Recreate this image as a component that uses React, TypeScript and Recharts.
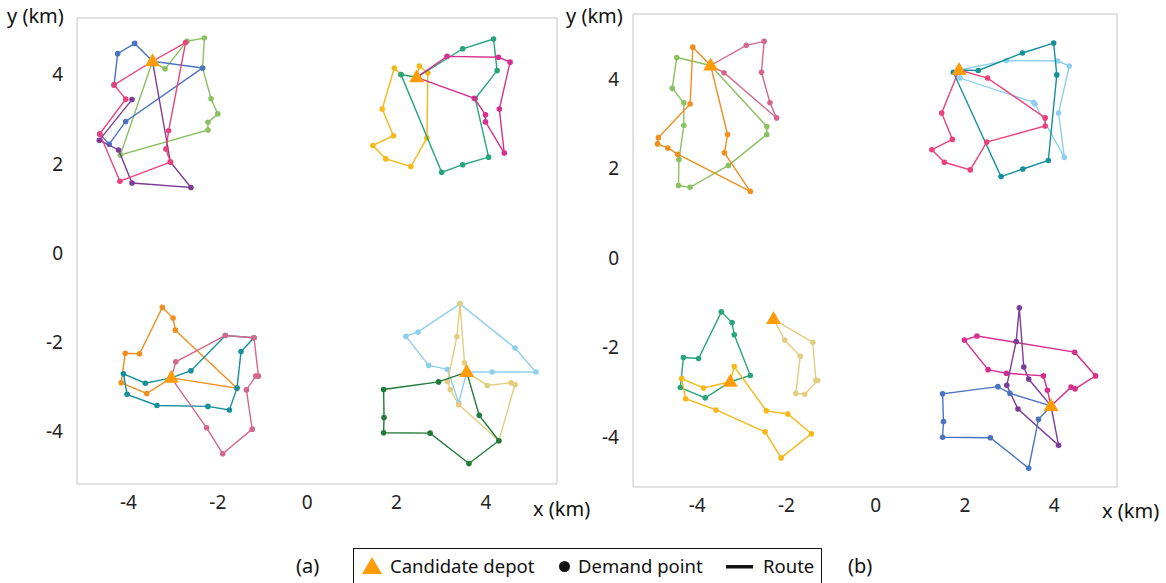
import { ReferenceArea, Scatter, ScatterChart, XAxis, YAxis } from "recharts";

type Pt = [number, number];

const FONT = '"Noto Sans", "DejaVu Sans", sans-serif';
const X_TICKS = [-4, -2, 0, 2, 4];
const Y_TICKS = [-4, -2, 0, 2, 4];

const C = {
  blue: "#4a74c0",
  lightGreen: "#8cc063",
  pink: "#e8437b",
  purple: "#7d3c98",
  yellow: "#f4b818",
  seaGreen: "#27a57c",
  magenta: "#d62f8f",
  orange: "#ef8f1f",
  teal: "#16909b",
  rose: "#d3698a",
  skyBlue: "#8ecfee",
  khaki: "#e3cd7e",
  darkGreen: "#217a3a",
  depot: "#ff9c0a",
};

// ---- panel (a) ----
const A_DEPOTS: Pt[] = [[-3.46, 4.3], [2.45, 3.94], [-3.04, -2.8], [3.57, -2.67]];

const A_NW_GREEN: Pt[] = [[-3.18, 4.13], [-2.69, 4.75], [-2.3, 4.82], [-2.34, 4.15], [-2.15, 3.46], [-2.0, 3.12], [-2.22, 2.93], [-2.22, 2.76], [-4.18, 2.2]];
const A_NW_PINK: Pt[] = [[-2.72, 4.72], [-3.1, 2.74], [-3.16, 2.33], [-3.06, 2.04], [-4.19, 1.61], [-4.64, 2.67], [-4.06, 3.45], [-4.32, 3.77]];
const A_NW_BLUE1: Pt[] = [[-3.86, 4.7], [-4.24, 4.47], [-4.32, 3.77]];
const A_NW_BLUE2: Pt[] = [[-2.34, 4.15], [-4.06, 2.95], [-4.43, 2.44], [-4.64, 2.67]];
const A_NW_PURPLE: Pt[] = [[-3.06, 2.04], [-2.6, 1.47], [-3.92, 1.57], [-4.22, 2.31], [-4.65, 2.53], [-3.92, 3.44]];

const A_NE_YELLOW: Pt[] = [[2.51, 4.19], [2.7, 4.04], [2.68, 2.58], [2.32, 1.94], [1.76, 2.11], [1.47, 2.41], [1.93, 2.63], [1.68, 3.23], [1.95, 4.15], [2.1, 4.0]];
const A_NE_GREEN: Pt[] = [[3.48, 4.58], [4.17, 4.8], [4.25, 4.09], [3.76, 3.46], [4.06, 2.15], [3.48, 1.98], [3.01, 1.81], [2.1, 4.0]];
const A_NE_MAGENTA: Pt[] = [[3.13, 4.41], [4.28, 4.39], [4.54, 4.28], [4.3, 3.23], [4.41, 2.24], [3.99, 2.94], [3.99, 3.1], [3.74, 3.47]];

const A_SW_ORANGE: Pt[] = [[-1.57, -3.03], [-2.95, -1.73], [-3.0, -1.46], [-3.24, -1.22], [-3.75, -2.26], [-4.07, -2.25], [-4.16, -2.91], [-3.59, -3.15]];
const A_SW_TEAL: Pt[] = [[-2.6, -2.64], [-1.83, -1.85], [-1.19, -1.9], [-1.48, -2.21], [-1.57, -3.03], [-1.74, -3.52], [-2.22, -3.44], [-3.36, -3.42], [-4.03, -3.17], [-4.11, -2.71], [-3.62, -2.92]];
const A_SW_ROSE: Pt[] = [[-2.94, -2.44], [-1.83, -1.85], [-1.19, -1.9], [-1.09, -2.76], [-1.15, -2.76], [-1.36, -3.07], [-1.23, -3.95], [-1.89, -4.5], [-2.25, -3.92]];

const A_SE_SKY: Pt[] = [[4.14, -2.67], [5.12, -2.67], [4.65, -2.13], [3.42, -1.14], [2.48, -1.77], [2.21, -1.87], [2.72, -2.52], [3.14, -2.61], [3.39, -3.36]];
const A_SE_KHAKI: Pt[] = [[3.52, -2.46], [3.42, -1.14], [3.35, -1.88], [3.14, -2.88], [3.2, -3.06], [3.39, -3.4], [4.29, -4.21], [4.65, -2.95], [4.56, -2.91], [4.03, -2.97]];
const A_SE_DARKGREEN: Pt[] = [[2.94, -2.89], [1.71, -3.06], [1.72, -3.69], [1.71, -4.03], [2.75, -4.04], [3.62, -4.72], [4.29, -4.21], [3.85, -3.64]];

// ---- panel (b) ----
const B_DEPOTS: Pt[] = [[-3.7, 4.3], [1.87, 4.2], [-3.26, -2.76], [-2.29, -1.36], [3.93, -3.3]];

const B_NW_ORANGE: Pt[] = [[-4.1, 4.71], [-4.16, 3.44], [-4.87, 2.69], [-4.89, 2.55], [-4.66, 2.46], [-4.44, 2.32], [-2.81, 1.49], [-3.39, 2.35], [-3.32, 2.76]];
const B_NW_GREEN: Pt[] = [[-4.46, 4.48], [-4.56, 3.79], [-4.3, 3.47], [-4.3, 2.96], [-4.41, 2.2], [-4.42, 1.62], [-4.16, 1.58], [-3.3, 2.07], [-2.44, 2.76], [-2.44, 2.94]];
const B_NW_ROSE: Pt[] = [[-2.9, 4.75], [-2.5, 4.84], [-2.56, 4.15], [-2.37, 3.47], [-2.22, 3.13], [-3.4, 4.14]];

const B_NE_TEAL: Pt[] = [[2.3, 4.19], [3.29, 4.58], [3.99, 4.8], [4.06, 4.09], [3.87, 2.18], [3.3, 1.99], [2.81, 1.82], [1.74, 4.15]];
const B_NE_SKY: Pt[] = [[2.93, 4.41], [4.08, 4.4], [4.34, 4.29], [4.1, 3.24], [4.23, 2.25], [3.57, 3.44], [3.54, 3.48], [1.89, 4.02]];
const B_NE_PINK: Pt[] = [[2.51, 4.02], [3.8, 3.13], [3.8, 2.95], [2.49, 2.59], [2.12, 1.97], [1.54, 2.14], [1.26, 2.42], [1.72, 2.65], [1.48, 3.24]];

const B_SW_GREEN: Pt[] = [[-2.81, -2.62], [-3.17, -1.71], [-3.22, -1.44], [-3.46, -1.2], [-3.97, -2.24], [-4.31, -2.22], [-4.38, -2.89], [-3.82, -3.12]];
const B_SW_YELLOW: Pt[] = [[-3.86, -2.9], [-4.35, -2.69], [-4.26, -3.14], [-3.58, -3.39], [-2.48, -3.88], [-2.12, -4.46], [-1.44, -3.92], [-1.97, -3.48], [-2.45, -3.41], [-3.17, -2.42]];
const B_SW_KHAKI: Pt[] = [[-1.41, -1.88], [-1.34, -2.73], [-1.3, -2.73], [-1.59, -3.04], [-1.79, -3.02], [-1.69, -2.19], [-2.04, -1.83]];

const B_SE_MAGENTA: Pt[] = [[4.38, -2.88], [4.47, -2.92], [4.93, -2.63], [4.46, -2.1], [2.27, -1.74], [1.99, -1.83], [2.52, -2.49], [2.93, -2.57], [3.76, -2.63], [3.85, -2.95]];
const B_SE_PURPLE: Pt[] = [[4.1, -4.18], [3.19, -3.37], [2.94, -2.84], [3.15, -1.86], [3.22, -1.11], [3.32, -2.43], [3.43, -2.7]];
const B_SE_BLUE: Pt[] = [[3.01, -3.02], [2.74, -2.87], [1.5, -3.03], [1.52, -3.65], [1.5, -4.0], [2.57, -4.01], [3.43, -4.69], [3.65, -3.6]];

type Route = { depot: Pt; color: string; stops: Pt[]; open?: boolean };

const A_ROUTES: Route[] = [
  { depot: A_DEPOTS[0], color: C.lightGreen, stops: A_NW_GREEN },
  { depot: A_DEPOTS[0], color: C.blue, stops: A_NW_BLUE1, open: true },
  { depot: A_DEPOTS[0], color: C.blue, stops: A_NW_BLUE2, open: true },
  { depot: A_DEPOTS[0], color: C.purple, stops: A_NW_PURPLE, open: true },
  { depot: A_DEPOTS[0], color: C.pink, stops: A_NW_PINK },
  { depot: A_DEPOTS[1], color: C.yellow, stops: A_NE_YELLOW },
  { depot: A_DEPOTS[1], color: C.seaGreen, stops: A_NE_GREEN },
  { depot: A_DEPOTS[1], color: C.magenta, stops: A_NE_MAGENTA },
  { depot: A_DEPOTS[2], color: C.orange, stops: A_SW_ORANGE },
  { depot: A_DEPOTS[2], color: C.teal, stops: A_SW_TEAL },
  { depot: A_DEPOTS[2], color: C.rose, stops: A_SW_ROSE },
  { depot: A_DEPOTS[3], color: C.skyBlue, stops: A_SE_SKY },
  { depot: A_DEPOTS[3], color: C.khaki, stops: A_SE_KHAKI },
  { depot: A_DEPOTS[3], color: C.darkGreen, stops: A_SE_DARKGREEN },
];

const B_ROUTES: Route[] = [
  { depot: B_DEPOTS[0], color: C.lightGreen, stops: B_NW_GREEN },
  { depot: B_DEPOTS[0], color: C.orange, stops: B_NW_ORANGE },
  { depot: B_DEPOTS[0], color: C.rose, stops: B_NW_ROSE },
  { depot: B_DEPOTS[1], color: C.skyBlue, stops: B_NE_SKY },
  { depot: B_DEPOTS[1], color: C.teal, stops: B_NE_TEAL },
  { depot: B_DEPOTS[1], color: C.pink, stops: B_NE_PINK },
  { depot: B_DEPOTS[2], color: C.seaGreen, stops: B_SW_GREEN },
  { depot: B_DEPOTS[2], color: C.yellow, stops: B_SW_YELLOW },
  { depot: B_DEPOTS[3], color: C.khaki, stops: B_SW_KHAKI },
  { depot: B_DEPOTS[4], color: C.magenta, stops: B_SE_MAGENTA },
  { depot: B_DEPOTS[4], color: C.purple, stops: B_SE_PURPLE },
  { depot: B_DEPOTS[4], color: C.blue, stops: B_SE_BLUE },
];

function routeData(r: Route) {
  const d = { x: r.depot[0], y: r.depot[1], depot: true };
  const pts = r.stops.map(([x, y]) => ({ x, y, depot: false }));
  return r.open ? [d, ...pts] : [d, ...pts, d];
}

const Triangle = (p: any) => (
  <polygon
    points={`${p.cx},${p.cy - 8} ${p.cx - 7.5},${p.cy + 5} ${p.cx + 7.5},${p.cy + 5}`}
    fill={C.depot}
  />
);

type PanelProps = {
  left: number;
  width: number;
  height: number;
  yAxisWidth: number;
  margin: { top: number; right: number; bottom: number; left: number };
  xDomain: [number, number];
  yDomain: [number, number];
  routes: Route[];
  depots: Pt[];
};

function Panel({ left, width, height, yAxisWidth, margin, xDomain, yDomain, routes, depots }: PanelProps) {
  const tick = { fill: "#222", fontSize: 19, fontFamily: FONT };
  return (
    <div style={{ position: "absolute", left, top: 0 }}>
      <ScatterChart width={width} height={height} margin={margin}>
        <XAxis
          type="number"
          dataKey="x"
          domain={xDomain}
          ticks={X_TICKS}
          allowDataOverflow
          axisLine={false}
          tickLine={false}
          tickMargin={6}
          height={40}
          tick={tick}
        />
        <YAxis
          type="number"
          dataKey="y"
          domain={yDomain}
          ticks={Y_TICKS}
          allowDataOverflow
          axisLine={false}
          tickLine={false}
          tickMargin={8}
          width={yAxisWidth}
          tick={tick}
        />
        <ReferenceArea
          x1={xDomain[0]}
          x2={xDomain[1]}
          y1={yDomain[0]}
          y2={yDomain[1]}
          fill="none"
          stroke="#c4c4c4"
          strokeWidth={1}
          fillOpacity={0}
        />
        {routes.map((r, i) => (
          <Scatter
            key={i}
            data={routeData(r)}
            fill={r.color}
            line={{ stroke: r.color, strokeWidth: 1.4 }}
            lineType="joint"
            isAnimationActive={false}
            shape={(p: any) =>
              p.payload && p.payload.depot ? <g /> : <circle cx={p.cx} cy={p.cy} r={2.8} fill={r.color} />
            }
          />
        ))}
        <Scatter
          data={depots.map(([x, y]) => ({ x, y }))}
          fill={C.depot}
          shape={Triangle}
          isAnimationActive={false}
        />
      </ScatterChart>
    </div>
  );
}

const label = (text: string, left: number, top: number, size = 20) => (
  <div
    style={{
      position: "absolute",
      left,
      top,
      fontFamily: FONT,
      fontSize: size,
      color: "#111",
      whiteSpace: "nowrap",
      lineHeight: 1,
    }}
  >
    {text}
  </div>
);

export default function App() {
  return (
    <div
      style={{
        position: "absolute",
        left: 0,
        top: 0,
        width: 1166,
        height: 583,
        overflow: "hidden",
        background: "#fff",
      }}
    >
      <Panel
        left={0}
        width={600}
        height={540}
        yAxisWidth={77}
        margin={{ top: 18, right: 43, bottom: 16, left: 0 }}
        xDomain={[-5.15, 5.59]}
        yDomain={[-5.18, 5.27]}
        routes={A_ROUTES}
        depots={A_DEPOTS}
      />
      <Panel
        left={560}
        width={600}
        height={540}
        yAxisWidth={73}
        margin={{ top: 14, right: 43, bottom: 13, left: 0 }}
        xDomain={[-5.44, 5.41]}
        yDomain={[-5.11, 5.45]}
        routes={B_ROUTES}
        depots={B_DEPOTS}
      />
      {label("y (km)", 7, 6)}
      {label("y (km)", 566, 6)}
      {label("x (km)", 533, 499)}
      {label("x (km)", 1102, 501)}
      {label("(a)", 296, 556)}
      {label("(b)", 848, 556)}
      <div
        style={{
          position: "absolute",
          left: 353,
          top: 548,
          width: 469,
          height: 44,
          border: "1.5px solid #111",
          boxSizing: "border-box",
          fontFamily: FONT,
          fontSize: 18.5,
          lineHeight: "24px",
          color: "#111",
        }}
      >
        <svg style={{ position: "absolute", left: 7, top: 7 }} width={22} height={19}>
          <polygon points="11,1 21,18 1,18" fill={C.depot} />
        </svg>
        <span style={{ position: "absolute", left: 36, top: 5 }}>Candidate depot</span>
        <svg style={{ position: "absolute", left: 204, top: 11 }} width={13} height={13}>
          <circle cx={6.5} cy={6.5} r={5.5} fill="#111" />
        </svg>
        <span style={{ position: "absolute", left: 224, top: 5 }}>Demand point</span>
        <svg style={{ position: "absolute", left: 372, top: 16 }} width={27} height={4}>
          <rect x={0} y={0} width={27} height={3.5} fill="#111" />
        </svg>
        <span style={{ position: "absolute", left: 409, top: 5 }}>Route</span>
      </div>
    </div>
  );
}
